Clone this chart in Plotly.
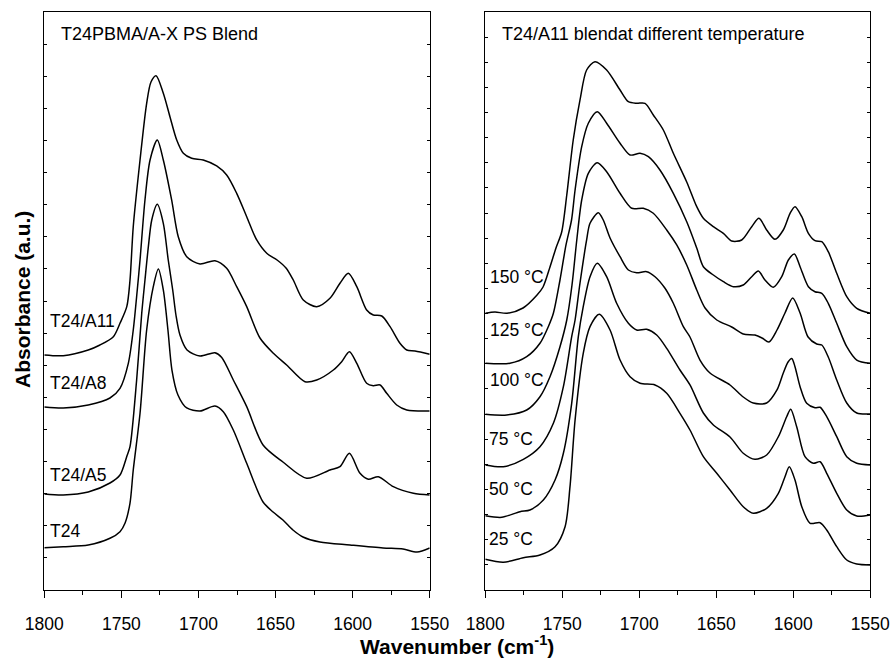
import plotly.graph_objects as go

# ---------------- Left panel: T24PBMA/A-X PS blend (stacked spectra) ----------------
wn_T24 = [1800, 1787.7, 1771.5, 1757.4, 1750.9, 1747.6, 1744.4, 1742.3, 1737.9, 1733.6, 1729.3, 1726.0,
          1722.8, 1719.8, 1717.2, 1713.3, 1707.6, 1699.0, 1689.3, 1683.9, 1677.4, 1668.7, 1658.1, 1651.6,
          1645.2, 1638.7, 1632.2, 1621.2, 1601.7, 1580.3, 1567.3, 1558.2, 1550]
abs_T24 = [1.317, 1.349, 1.401, 1.610, 1.816, 2.087, 2.709, 3.737, 5.503, 8.097, 9.446, 9.997,
           9.343, 8.097, 6.851, 6.073, 5.668, 5.575, 5.730, 5.553, 4.983, 3.946, 2.741, 2.429,
           2.180, 1.869, 1.651, 1.495, 1.401, 1.308, 1.277, 1.183, 1.308]

wn_A5 = [1800, 1787.7, 1771.5, 1757.4, 1750.9, 1746.4, 1744.4, 1740.1, 1736.8, 1734.7, 1732.5, 1730.3,
         1726.7, 1722.8, 1719.6, 1716.7, 1714.6, 1712.0, 1707.4, 1699.0, 1689.3, 1684.9, 1677.4, 1668.7,
         1658.1, 1645.2, 1629.8, 1614.7, 1608.2, 1602.1, 1595.2, 1589.8, 1583.3, 1573.6, 1560.6, 1550]
abs_A5 = [2.990, 2.959, 3.052, 3.332, 3.581, 4.173, 4.463, 6.540, 8.617, 9.654, 10.691, 11.523,
          12.012, 11.420, 10.277, 9.343, 8.564, 7.941, 7.474, 7.287, 7.390, 7.241, 6.540, 5.709,
          4.516, 3.986, 3.479, 3.737, 3.840, 4.257, 3.634, 3.448, 3.528, 3.217, 3.012, 2.959]

wn_A8 = [1800, 1787.7, 1771.5, 1757.4, 1750.9, 1745.5, 1742.3, 1739.7, 1737.9, 1734.7, 1731.4, 1726.7,
         1722.8, 1717.4, 1713.1, 1707.6, 1699.0, 1689.3, 1681.7, 1675.2, 1668.7, 1660.1, 1651.4, 1642.8,
         1630.9, 1623.3, 1612.5, 1607.1, 1602.1, 1597.3, 1590.9, 1586.6, 1582.2, 1577.9, 1571.4, 1564.9, 1550]
abs_A8 = [5.699, 5.668, 5.761, 5.979, 6.282, 7.060, 8.097, 9.343, 10.277, 12.146, 13.391, 14.014,
          13.391, 12.146, 11.003, 10.380, 10.153, 10.255, 10.019, 9.446, 8.823, 7.848, 7.372, 7.007,
          6.487, 6.540, 6.851, 7.110, 7.421, 7.060, 6.437, 6.363, 6.384, 6.126, 5.761, 5.606, 5.575]

wn_A11 = [1800, 1787.7, 1771.5, 1763.9, 1755.2, 1750.9, 1746.5, 1744.4, 1742.3, 1737.9, 1733.6, 1730.8,
          1727.5, 1722.8, 1718.5, 1714.1, 1709.8, 1704.4, 1696.9, 1688.2, 1681.7, 1675.2, 1668.7, 1662.2,
          1655.7, 1649.0, 1643.2, 1638.5, 1632.0, 1623.3, 1614.7, 1608.2, 1602.8, 1597.3, 1590.9, 1586.6,
          1581.1, 1575.7, 1569.3, 1564.9, 1559.5, 1550]
abs_A11 = [7.319, 7.297, 7.474, 7.630, 7.889, 8.306, 8.823, 9.654, 11.314, 13.391, 15.157, 15.821,
           16.017, 15.469, 14.740, 14.014, 13.600, 13.444, 13.391, 13.205, 12.924, 12.354, 11.626, 10.900,
           10.486, 10.277, 10.028, 9.654, 9.031, 8.823, 9.084, 9.552, 9.863, 9.446, 8.720, 8.564,
           8.533, 8.200, 7.683, 7.474, 7.443, 7.340]

left_names = ["T24", "T24/A5", "T24/A8", "T24/A11"]

# ---------------- Right panel: T24/A11 blend at different temperatures ----------------
wn_25 = [1800, 1788.3, 1775.3, 1764.5, 1754.7, 1748.2, 1745.0, 1741.7, 1736.4, 1732.0, 1726.0,
         1719.0, 1712.5, 1706.0, 1699.5, 1689.8, 1682.2, 1673.6, 1667.1, 1658.4, 1649.7, 1641.1,
         1632.5, 1626.0, 1617.3, 1609.7, 1605.4, 1602.6, 1598.9, 1594.5, 1589.1, 1582.6, 1578.3,
         1571.8, 1565.3, 1558.8, 1550]
abs_25 = [1.222, 1.102, 1.285, 1.393, 1.723, 2.519, 4.111, 6.765, 9.419, 10.478, 10.971,
          10.346, 9.152, 8.488, 8.225, 8.158, 7.827, 7.031, 6.367, 5.304, 4.644, 3.979,
          3.315, 3.052, 3.251, 3.848, 4.509, 4.906, 4.377, 3.315, 2.654, 2.678, 2.388,
          1.723, 1.194, 1.035, 0.995]

wn_50 = [1800, 1789.3, 1777.5, 1771.0, 1762.3, 1754.7, 1749.3, 1743.9, 1739.6, 1736.4, 1732.0, 1727.3,
         1721.2, 1714.7, 1707.1, 1701.7, 1695.2, 1688.7, 1682.2, 1673.6, 1667.1, 1658.4, 1651.9, 1641.1,
         1632.5, 1624.9, 1617.3, 1609.7, 1604.3, 1601.7, 1597.8, 1592.4, 1587.0, 1582.6, 1578.3, 1571.8,
         1565.3, 1558.8, 1550]
abs_50 = [2.957, 2.893, 3.116, 3.183, 3.581, 4.377, 5.440, 7.429, 10.080, 11.273, 12.467, 13.000,
          12.467, 11.409, 10.613, 10.346, 10.374, 10.147, 9.618, 8.754, 8.158, 7.043, 6.566, 6.088,
          5.440, 5.201, 5.372, 6.100, 6.896, 7.191, 6.498, 5.304, 5.042, 5.105, 4.644, 3.848,
          3.183, 2.945, 2.984]

wn_75 = [1800, 1788.3, 1775.3, 1764.5, 1755.8, 1749.3, 1743.9, 1741.7, 1738.5, 1734.2, 1732.0, 1726.6,
         1723.4, 1719.0, 1712.5, 1707.1, 1701.7, 1695.2, 1689.8, 1683.3, 1677.9, 1671.4, 1667.1, 1660.6,
         1654.1, 1641.1, 1632.5, 1626.0, 1617.3, 1610.6, 1606.5, 1603.4, 1601.0, 1598.9, 1595.6, 1591.3,
         1585.9, 1582.6, 1578.3, 1571.8, 1565.3, 1558.8, 1550]
abs_75 = [4.974, 4.906, 5.201, 5.702, 6.634, 8.090, 10.080, 10.744, 12.216, 13.928, 14.592, 15.014,
          14.723, 14.007, 13.263, 12.734, 12.626, 12.666, 12.467, 12.006, 11.409, 10.478, 10.068, 9.152,
          8.635, 8.158, 7.680, 7.441, 7.441, 7.959, 8.635, 9.073, 9.212, 8.886, 8.090, 7.429,
          7.254, 7.270, 6.896, 6.100, 5.304, 5.042, 4.974]

wn_100 = [1800, 1786.1, 1773.1, 1764.5, 1758.0, 1751.5, 1747.1, 1743.7, 1740.6, 1737.4, 1733.1, 1727.3,
          1721.2, 1712.5, 1704.9, 1697.4, 1690.9, 1682.2, 1675.7, 1669.2, 1662.7, 1657.3, 1649.7, 1640.0,
          1632.5, 1624.9, 1620.3, 1615.8, 1610.6, 1605.4, 1600.4, 1595.6, 1590.4, 1584.8, 1581.5, 1577.3,
          1571.8, 1565.3, 1558.8, 1550]
abs_100 = [6.992, 6.964, 7.163, 7.692, 8.488, 9.682, 10.744, 12.137, 13.928, 15.519, 16.582, 17.004,
           16.646, 15.786, 15.189, 15.189, 14.990, 14.326, 13.729, 12.933, 11.938, 11.222, 10.744, 10.466,
           10.187, 10.147, 10.028, 9.869, 10.346, 11.023, 11.620, 11.023, 10.068, 9.789, 9.749, 9.272,
           8.357, 7.441, 7.043, 7.004]

wn_125 = [1800, 1784.0, 1773.1, 1764.5, 1759.1, 1755.8, 1751.5, 1747.6, 1744.0, 1741.7, 1737.4, 1733.1,
          1727.3, 1721.2, 1712.5, 1706.0, 1699.5, 1694.1, 1686.6, 1677.9, 1669.2, 1662.7, 1658.4, 1651.9,
          1645.4, 1638.9, 1632.5, 1627.0, 1622.7, 1618.4, 1613.0, 1607.5, 1603.2, 1599.3, 1595.6, 1590.2,
          1585.9, 1581.5, 1577.3, 1571.8, 1565.3, 1558.8, 1550]
abs_125 = [9.021, 9.021, 9.284, 9.817, 10.478, 11.011, 12.336, 13.729, 14.723, 15.917, 17.640, 18.572,
           19.033, 18.572, 17.776, 17.310, 17.378, 17.242, 16.713, 15.786, 14.656, 13.609, 12.865, 12.535,
           12.268, 12.069, 12.137, 12.467, 12.694, 12.336, 12.045, 12.467, 13.132, 13.371, 12.865, 12.069,
           11.870, 11.806, 11.409, 10.613, 9.682, 9.152, 9.021]

wn_150 = [1800, 1793.7, 1785.9, 1775.5, 1766.4, 1762.5, 1758.0, 1754.1, 1750.4, 1747.1, 1742.9, 1738.5,
          1734.2, 1728.8, 1721.2, 1712.5, 1707.1, 1701.7, 1696.3, 1690.9, 1684.4, 1677.9, 1669.2, 1662.7,
          1658.4, 1651.9, 1645.4, 1640.0, 1633.5, 1627.0, 1622.3, 1617.3, 1611.9, 1606.5, 1602.1, 1598.9,
          1594.5, 1590.2, 1585.9, 1581.5, 1577.3, 1571.8, 1565.3, 1558.8, 1550]
abs_150 = [11.011, 11.062, 11.011, 11.222, 11.739, 12.057, 12.853, 13.609, 14.246, 15.718, 17.907, 19.499,
           20.692, 21.023, 20.692, 19.897, 19.431, 19.367, 19.367, 18.902, 18.305, 17.378, 16.236, 15.253,
           14.791, 14.457, 14.194, 13.888, 13.928, 14.457, 14.791, 14.326, 13.955, 14.326, 14.990, 15.253,
           14.855, 14.194, 13.900, 13.860, 13.462, 12.602, 11.671, 11.210, 11.011]

right_names = ["25 °C", "50 °C", "75 °C", "100 °C", "125 °C", "150 °C"]

left_series = [(wn_T24, abs_T24), (wn_A5, abs_A5), (wn_A8, abs_A8), (wn_A11, abs_A11)]
right_series = [(wn_25, abs_25), (wn_50, abs_50), (wn_75, abs_75),
                (wn_100, abs_100), (wn_125, abs_125), (wn_150, abs_150)]

x_ticks = [1800, 1750, 1700, 1650, 1600, 1550]

FONT = "Liberation Sans, Arial, sans-serif"
W, H = 891, 658

fig = go.Figure()
line_style = dict(color="black", width=1.5, shape="spline", smoothing=0.8)
for name, (wx, ay) in zip(left_names, left_series):
    fig.add_trace(go.Scatter(x=wx, y=ay, mode="lines", line=line_style, name=name,
                             xaxis="x", yaxis="y", showlegend=False, hoverinfo="skip"))
for name, (wx, ay) in zip(right_names, right_series):
    fig.add_trace(go.Scatter(x=wx, y=ay, mode="lines", line=line_style, name=name,
                             xaxis="x2", yaxis="y2", showlegend=False, hoverinfo="skip"))

ytop = 1 - 12 / H
ybot = 1 - 590 / H
dom_left = [44.3 / W, 429.7 / W]
dom_right = [485.3 / W, 870.3 / W]

def xaxis_cfg(domain, anchor):
    return dict(domain=domain, anchor=anchor, range=[1800, 1550], autorange=False,
                tickmode="array", tickvals=x_ticks, ticks="outside", ticklen=7, tickwidth=1.3,
                tickcolor="black", minor=dict(dtick=25, tick0=1800, ticks="outside", ticklen=4,
                                              tickwidth=1.3, tickcolor="black", showgrid=False),
                showline=True, linecolor="black", linewidth=1.3, mirror=True,
                showgrid=False, zeroline=False, automargin=False, ticklabelstandoff=11,
                tickfont=dict(family=FONT, size=17.5, color="black"))

def top_cfg(over, anchor):
    return dict(overlaying=over, anchor=anchor, side="top", range=[1800, 1550], autorange=False,
                tickmode="linear", tick0=1800, dtick=25, ticks="inside", ticklen=3, tickwidth=1.2,
                tickcolor="black", showticklabels=False, showline=False, showgrid=False,
                zeroline=False, automargin=False)

def yaxis_cfg(anchor, top):
    return dict(domain=[ybot, ytop], anchor=anchor, range=[0, top], autorange=False,
                tickmode="linear", tick0=0, dtick=1, ticks="inside", ticklen=3, tickwidth=1.2,
                tickcolor="black", showticklabels=False, showline=True, linecolor="black",
                linewidth=1.3, mirror="ticks", showgrid=False, zeroline=False, automargin=False)

annotations = []
def ann(text, px, py, size=17.5, bold=False, angle=0, xanchor="left"):
    annotations.append(dict(text=("<b>%s</b>" % text) if bold else text, xref="paper", yref="paper",
                            x=px / W, y=1 - py / H, xanchor=xanchor, yanchor="middle",
                            showarrow=False, textangle=angle,
                            font=dict(family=FONT, size=size, color="black")))

ann("T24PBMA/A-X PS Blend", 59, 34, size=18)
ann("T24/A11 blendat different temperature", 500, 34, size=18)

left_label_pos = [(48, 531), (48, 475), (48, 383), (48, 321)]
for name, (px, py) in zip(left_names, left_label_pos):
    ann(name, px, py)
right_label_pos = [(487, 539), (487, 489), (487, 439), (488, 380), (488, 330), (488, 277)]
for name, (px, py) in zip(right_names, right_label_pos):
    ann(name, px, py)

ann("Absorbance (a.u.)", 22, 300, size=21, bold=True, angle=-90, xanchor="center")
ann("Wavenumber (cm<sup>-1</sup>)", 457, 645, size=21, bold=True, xanchor="center")

fig.update_layout(
    width=W, height=H, margin=dict(l=0, r=0, t=0, b=0),
    paper_bgcolor="white", plot_bgcolor="white",
    xaxis=xaxis_cfg(dom_left, "y"), xaxis2=xaxis_cfg(dom_right, "y2"),
    xaxis3=top_cfg("x", "y"), xaxis4=top_cfg("x2", "y2"),
    yaxis=yaxis_cfg("x", 18), yaxis2=yaxis_cfg("x2", 23),
    annotations=annotations, showlegend=False, hovermode=False,
    font=dict(family=FONT, color="black"),
)

fig.write_html("out.html")
